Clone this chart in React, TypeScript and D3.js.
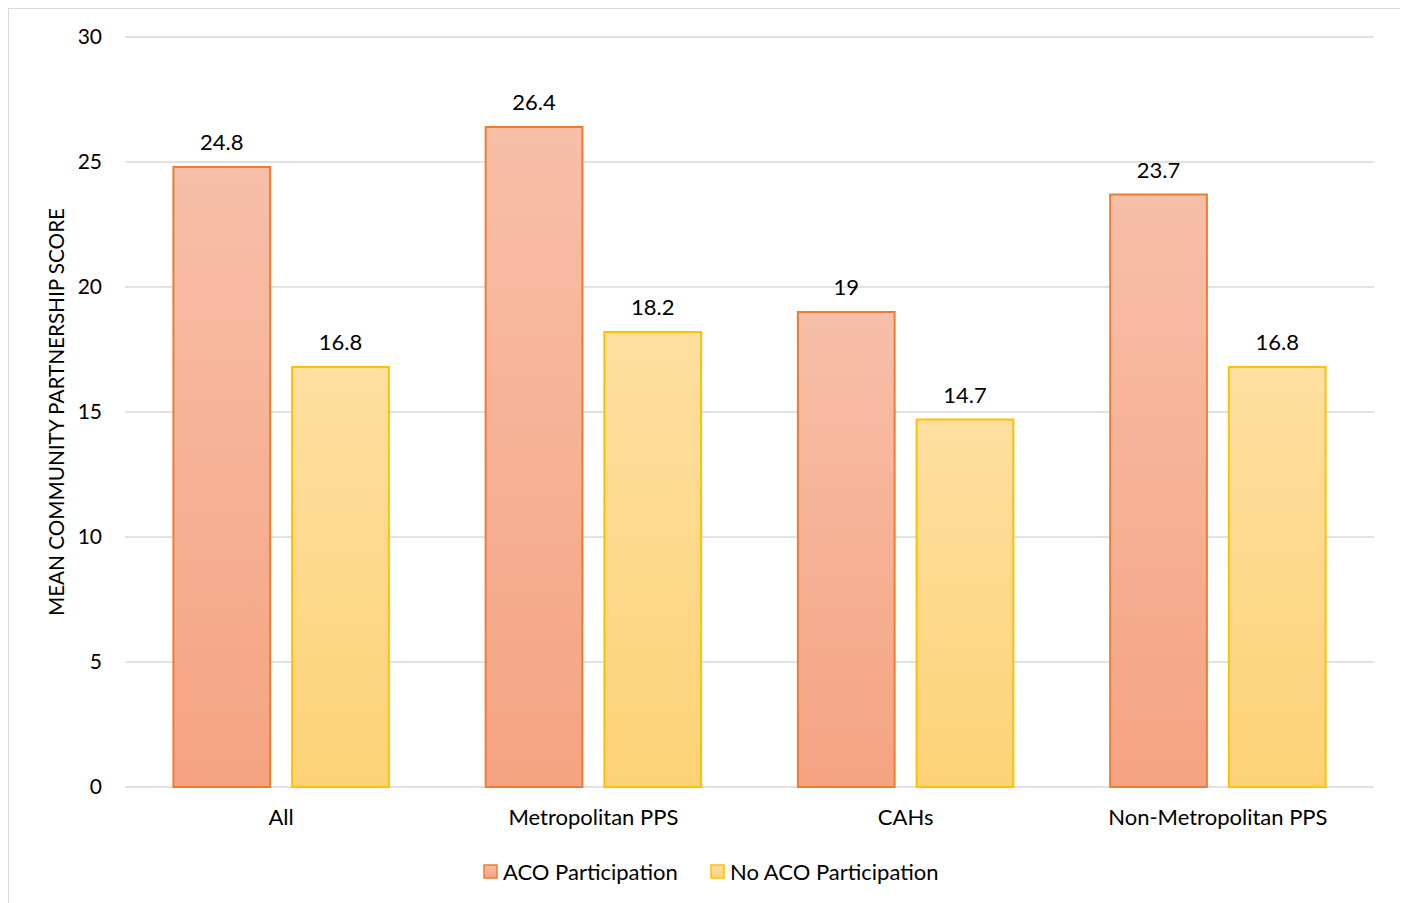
import React from "react";
import * as d3 from "d3";

const categories = ["All", "Metropolitan PPS", "CAHs", "Non-Metropolitan PPS"];
const seriesNames = ["ACO Participation", "No ACO Participation"];
const acoValues = [24.8, 26.4, 19, 23.7];
const noAcoValues = [16.8, 18.2, 14.7, 16.8];
const yTicks = [0, 5, 10, 15, 20, 25, 30];

const W = 1396;
const H = 900;
const margin = { left: 117, right: 30, top: 29, bottom: 121 };
const FONT = "Lato, 'Open Sans', sans-serif";

const colors = [
  { top: "#F7BFA8", bottom: "#F5A381", stroke: "#ED7D31" },
  { top: "#FEDF9F", bottom: "#FDD277", stroke: "#FFC000" },
];

export default function App() {
  const x0 = d3
    .scaleBand<string>()
    .domain(categories)
    .range([margin.left, W - margin.right])
    .paddingInner(0)
    .paddingOuter(0);
  const bw = x0.bandwidth();
  const x1 = d3
    .scaleBand<number>()
    .domain([0, 1])
    .range([bw * 0.155, bw * 0.845])
    .paddingInner(0.185);
  const y = d3.scaleLinear().domain([0, 30]).range([H - margin.bottom, margin.top]);
  const series = [acoValues, noAcoValues];

  return (
    <svg width={W} height={H} style={{ display: "block" }} fontFamily={FONT}>
      <defs>
        {colors.map((c, i) => (
          <linearGradient key={i} id={`g${i}`} x1="0" y1="0" x2="0" y2="1">
            <stop offset="0" stopColor={c.top} />
            <stop offset="1" stopColor={c.bottom} />
          </linearGradient>
        ))}
      </defs>
      <rect x={0.5} y={0.5} width={W - 1} height={H + 10} fill="#fff" stroke="#D9D9D9" />
      {yTicks.map((t) => (
        <g key={t}>
          <line x1={margin.left} x2={W - margin.right} y1={y(t)} y2={y(t)} stroke="#D9D9D9" strokeWidth={1.5} />
          <text x={94} y={y(t)} dy="0.35em" textAnchor="end" fontSize={21} fill="#000">
            {t}
          </text>
        </g>
      ))}
      {categories.map((c, ci) => (
        <g key={c}>
          {series.map((vals, si) => {
            const xx = (x0(c) as number) + (x1(si) as number);
            const v = vals[ci];
            return (
              <g key={si}>
                <rect
                  x={xx}
                  y={y(v)}
                  width={x1.bandwidth()}
                  height={y(0) - y(v)}
                  fill={`url(#g${si})`}
                  stroke={colors[si].stroke}
                  strokeWidth={2}
                />
                <text x={xx + x1.bandwidth() / 2} y={y(v) - 17} textAnchor="middle" fontSize={22} fill="#000">
                  {v}
                </text>
              </g>
            );
          })}
          <text x={(x0(c) as number) + bw / 2} y={y(0) + 38} textAnchor="middle" fontSize={22} fill="#000">
            {c}
          </text>
        </g>
      ))}
      <text
        transform={`translate(49, ${y(15)}) rotate(-90)`}
        textAnchor="middle"
        fontSize={20.7}
        fill="#000"
        dy="0.35em"
      >
        MEAN COMMUNITY PARTNERSHIP SCORE
      </text>
      {seriesNames.map((s, i) => {
        const lx = [476, 703][i];
        return (
          <g key={s}>
            <rect x={lx} y={857} width={13} height={13} fill={`url(#g${i})`} stroke={colors[i].stroke} strokeWidth={1.5} />
            <text x={lx + 19} y={864} dy="0.35em" fontSize={22} fill="#000">
              {s}
            </text>
          </g>
        );
      })}
    </svg>
  );
}
